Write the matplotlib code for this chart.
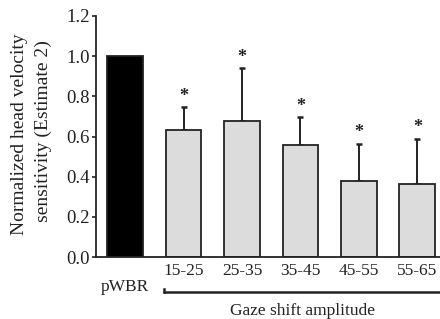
import matplotlib
matplotlib.use("Agg")
import matplotlib.pyplot as plt

categories = ["pWBR", "15-25", "25-35", "35-45", "45-55", "55-65"]
values = [1.0, 0.63, 0.675, 0.56, 0.38, 0.365]
err_upper = [0.0, 0.115, 0.265, 0.135, 0.185, 0.225]
significant = [False, True, True, True, True, True]
yticks = [0.0, 0.2, 0.4, 0.6, 0.8, 1.0, 1.2]

plt.rcParams['font.family'] = ['Liberation Serif', 'DejaVu Serif']
W, H = 440, 319

fig = plt.figure(figsize=(4.4, 3.19), dpi=100)
ax = fig.add_axes([96/W, 1 - 257/H, 1 - 96/W, (257 - 16)/H])

x = list(range(len(categories)))
colors = ['black'] + ['#dcdcdc'] * (len(categories) - 1)
ax.bar(x, values, width=0.615, color=colors, edgecolor='#222222', linewidth=1.3, zorder=2)

for xi, v, e, s in zip(x, values, err_upper, significant):
    if e > 0:
        ax.errorbar(xi, v, yerr=[[0], [e]], fmt='none', ecolor='#222222',
                    elinewidth=1.4, capsize=2.5, capthick=1.8, zorder=1)
    if s:
        ax.text(xi, v + e + 0.012, '*', ha='center', va='bottom', fontsize=13,
                fontweight='bold', color='#222222')

ax.set_xlim(-0.496, 5.385)
ax.set_ylim(0, 1.2)
ax.set_yticks(yticks)
ax.set_yticklabels([f"{t:.1f}" for t in yticks], fontsize=13.5)
ax.tick_params(axis='y', direction='out', length=3, width=1.2, pad=1.5, colors='#222222')
ax.set_xticks(x[1:])
ax.set_xticklabels(categories[1:], fontsize=12.5)
ax.tick_params(axis='x', length=0, pad=4, colors='#222222')
ax.text(0, -(287 - 257) / 201, categories[0], ha='center', va='center', fontsize=12.5,
        color='#222222')

for side in ['top', 'right']:
    ax.spines[side].set_visible(False)
for side in ['left', 'bottom']:
    ax.spines[side].set_linewidth(1.3)
    ax.spines[side].set_color('#222222')

fig.text(20/W, 1 - 134/H, "Normalized head velocity", rotation=90, ha='center',
         va='center', fontsize=14, color='#222222')
fig.text(43/W, 1 - 131/H, "sensitivity (Estimate 2)", rotation=90, ha='center',
         va='center', fontsize=14, color='#222222')

# bracket under the amplitude groups
yb = -(292 - 257) / 201
ax.plot([0.65, 5.385], [yb, yb], color='#222222', lw=1.8, clip_on=False,
        solid_capstyle='butt')
ax.plot([0.66, 0.66], [yb, yb + 0.015], color='#222222', lw=1.8, clip_on=False)
fig.text(303/W, 1 - 311/H, "Gaze shift amplitude", ha='center', va='center',
         fontsize=12.5, color='#222222')

fig.savefig("out.png", dpi=100)
